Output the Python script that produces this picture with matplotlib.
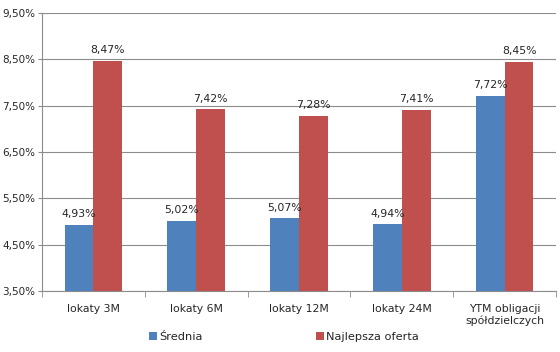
import numpy as np
import matplotlib.pyplot as plt
from matplotlib.ticker import FuncFormatter

categories = ["lokaty 3M", "lokaty 6M", "lokaty 12M", "lokaty 24M", "YTM obligacji\nspółdzielczych"]
srednia = [4.93, 5.02, 5.07, 4.94, 7.72]
najlepsza = [8.47, 7.42, 7.28, 7.41, 8.45]
yticks = [3.5, 4.5, 5.5, 6.5, 7.5, 8.5, 9.5]

blue = "#4F81BD"
red = "#C0504D"
txt = "#262626"
axc = "#8C8C8C"

fig = plt.figure(figsize=(5.6, 3.52), dpi=100)
ax = fig.add_axes([0.075, 0.173, 0.918, 0.79])

x = np.arange(len(categories))
w = 0.28
b1 = ax.bar(x - w / 2, np.array(srednia) - 3.5, w, bottom=3.5, color=blue, label="Średnia", zorder=3)
b2 = ax.bar(x + w / 2, np.array(najlepsza) - 3.5, w, bottom=3.5, color=red, label="Najlepsza oferta", zorder=3)

fmt = lambda v: f"{v:.2f}%".replace(".", ",")
for xs, vals in ((x - w / 2, srednia), (x + w / 2, najlepsza)):
    for xi, v in zip(xs, vals):
        ax.text(xi, v + 0.12, fmt(v), ha="center", va="bottom", fontsize=7.8, color=txt)

ax.set_xlim(-0.5, len(categories) - 0.5)
ax.set_ylim(3.5, 9.5)
ax.set_yticks(yticks)
ax.yaxis.set_major_formatter(FuncFormatter(lambda v, p: fmt(v)))
ax.grid(axis="y", color=axc, linewidth=0.8, zorder=0)

ax.set_xticks(x)
ax.set_xticklabels(categories, fontsize=7.8, color=txt)
ax.set_xticks(np.arange(-0.5, len(categories)), minor=True)
ax.tick_params(axis="x", which="major", length=0, pad=9)
ax.tick_params(axis="x", which="minor", length=4, color=axc)
ax.tick_params(axis="y", length=3, color=axc, labelsize=7.5, labelcolor=txt, pad=2)

for s in ("top", "right"):
    ax.spines[s].set_visible(False)
for s in ("left", "bottom"):
    ax.spines[s].set_color(axc)

fig.legend(handles=[b1, b2], loc="center", bbox_to_anchor=(0.507, 0.043), ncol=2,
           frameon=False, fontsize=8.2, handlelength=0.7, handleheight=0.7,
           handletextpad=0.2, columnspacing=10, labelcolor=txt)

fig.savefig("out.png", dpi=100)
